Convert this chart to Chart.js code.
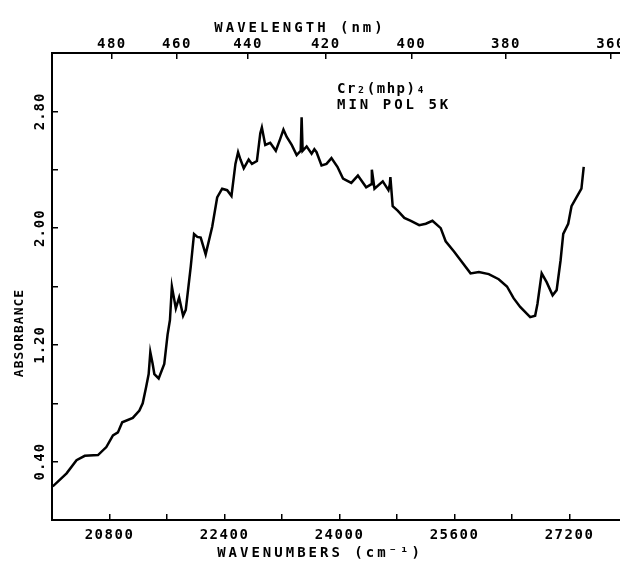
<!DOCTYPE html>
<html>
<head>
<meta charset="utf-8">
<script src="https://cdn.jsdelivr.net/npm/chart.js@4.4.0/dist/chart.umd.min.js"></script>
<style>
html, body { margin: 0; padding: 0; background: #fff; overflow: hidden; }
#spectrum { display: block; }
</style>
</head>
<body>
<canvas id="spectrum" width="640" height="562"></canvas>
<script>
// spectrum: wavenumber (cm-1) vs absorbance
const wavenumbers = [
    20010, 20203, 20341, 20456, 20640, 20756, 20848, 20917, 20977, 21124,
    21216, 21262, 21309, 21345, 21368, 21400, 21424, 21484, 21562, 21608,
    21641, 21668, 21723, 21769, 21824, 21861, 21930, 21976, 22022, 22069,
    22138, 22229, 22298, 22367, 22437, 22497, 22552, 22589, 22622, 22668,
    22736, 22782, 22851, 22898, 22920, 22967, 23036, 23114, 23174, 23220,
    23266, 23335, 23404, 23460, 23473, 23487, 23543, 23612, 23650, 23681,
    23750, 23819, 23888, 23971, 24049, 24164, 24256, 24371, 24440, 24450,
    24487, 24602, 24681, 24700, 24708, 24740, 24809, 24902, 24993, 25109,
    25201, 25293, 25408, 25477, 25593, 25685, 25823, 25939, 26077, 26215,
    26330, 26422, 26514, 26653, 26722, 26754, 26813, 26882, 26965, 27021,
    27076, 27113, 27182, 27228, 27297, 27366, 27398
];
const absorbance = [
    0.23, 0.32, 0.41, 0.44, 0.445, 0.50, 0.58, 0.60, 0.67, 0.70,
    0.75, 0.80, 0.91, 1.00, 1.15, 1.07, 1.00, 0.97, 1.07, 1.27,
    1.37, 1.60, 1.45, 1.525, 1.40, 1.44, 1.735, 1.96, 1.94, 1.935,
    1.82, 2.01, 2.21, 2.27, 2.26, 2.22, 2.44, 2.52, 2.47, 2.41,
    2.47, 2.44, 2.46, 2.65, 2.69, 2.57, 2.585, 2.53, 2.61, 2.675,
    2.625, 2.57, 2.50, 2.53, 2.76, 2.53, 2.56, 2.51, 2.54, 2.52,
    2.43, 2.44, 2.48, 2.42, 2.34, 2.31, 2.36, 2.28, 2.30, 2.40,
    2.27, 2.32, 2.26, 2.30, 2.35, 2.15, 2.12, 2.07, 2.05, 2.02,
    2.03, 2.05, 2.00, 1.91, 1.84, 1.78, 1.69, 1.70, 1.685, 1.65,
    1.60, 1.52, 1.46, 1.39, 1.40, 1.48, 1.69, 1.63, 1.54, 1.575,
    1.78, 1.96, 2.03, 2.15, 2.21, 2.27, 2.42
];

const wavenumberLabels = [20800, 22400, 24000, 25600, 27200];
const wavelengthTicks = [480, 460, 440, 420, 400, 380, 360];
const absorbanceLabels = [0.4, 1.2, 2.0, 2.8];

const FONT = '"DejaVu Sans Mono", monospace';
const tickFont = { family: FONT, size: 14, weight: 'bold' };

// titles, rotated y labels and the sample note
const textPlugin = {
    id: 'plotterText',
    beforeDraw(chart) {
        chart.ctx.letterSpacing = '1.5px';
    },
    afterDraw(chart) {
        const ctx = chart.ctx;
        const y = chart.scales.y;
        ctx.save();
        ctx.fillStyle = '#000';
        ctx.textBaseline = 'middle';
        ctx.textAlign = 'center';

        ctx.font = `bold 14px ${FONT}`;
        ctx.letterSpacing = '1px';
        absorbanceLabels.forEach(v => {
            ctx.save();
            ctx.translate(40, y.getPixelForValue(v));
            ctx.rotate(-Math.PI / 2);
            ctx.fillText(v.toFixed(2), 0, 0);
            ctx.restore();
        });

        ctx.font = `bold 13px ${FONT}`;
        ctx.save();
        ctx.translate(20, 333);
        ctx.rotate(-Math.PI / 2);
        ctx.fillText('ABSORBANCE', 0, 0);
        ctx.restore();

        ctx.font = `bold 14px ${FONT}`;
        ctx.letterSpacing = '3px';
        ctx.fillText('WAVELENGTH (nm)', 300, 28);
        ctx.fillText('WAVENUMBERS (cm⁻¹)', 320, 553);

        ctx.textAlign = 'left';
        ctx.fillText('MIN POL 5K', 337, 105);
        ctx.letterSpacing = '1.5px';
        ctx.fillText('Cr₂(mhp)₄', 337, 89);
        ctx.restore();
    }
};

new Chart(document.getElementById('spectrum'), {
    type: 'line',
    data: {
        datasets: [{
            data: wavenumbers.map((v, i) => ({ x: v, y: absorbance[i] })),
            borderColor: '#000',
            borderWidth: 2.5,
            pointRadius: 0,
            tension: 0,
            fill: false
        }]
    },
    options: {
        responsive: false,
        animation: false,
        layout: { padding: { left: 0, right: 9, top: 0, bottom: 0 } },
        plugins: { legend: { display: false }, tooltip: { enabled: false } },
        scales: {
            x: {
                type: 'linear',
                position: 'bottom',
                min: 20000,
                max: 28000,
                afterFit: s => { s.height = 42; },
                ticks: {
                    stepSize: 800,
                    autoSkip: false,
                    maxRotation: 0,
                    padding: 13,
                    color: '#000',
                    font: tickFont,
                    callback: v => wavenumberLabels.includes(v) ? String(v) : ''
                },
                grid: { drawOnChartArea: false, tickLength: -6, color: '#000', lineWidth: 1.5 },
                border: { color: '#000', width: 2 }
            },
            x2: {
                type: 'linear',
                position: 'top',
                min: 20000,
                max: 28000,
                afterFit: s => { s.height = 53; },
                afterBuildTicks: s => { s.ticks = wavelengthTicks.map(l => ({ value: 1e7 / l })); },
                ticks: {
                    autoSkip: false,
                    maxRotation: 0,
                    padding: 6,
                    color: '#000',
                    font: tickFont,
                    callback: v => String(Math.round(1e7 / v))
                },
                grid: { drawOnChartArea: false, tickLength: -6, color: '#000', lineWidth: 1.5 },
                border: { color: '#000', width: 2 }
            },
            y: {
                min: 0,
                max: 3.2,
                afterFit: s => { s.width = 52; },
                ticks: { stepSize: 0.4, display: false },
                grid: { drawOnChartArea: false, tickLength: -6, color: '#000', lineWidth: 1.5 },
                border: { color: '#000', width: 2 }
            }
        }
    },
    plugins: [textPlugin]
});
</script>
</body>
</html>
